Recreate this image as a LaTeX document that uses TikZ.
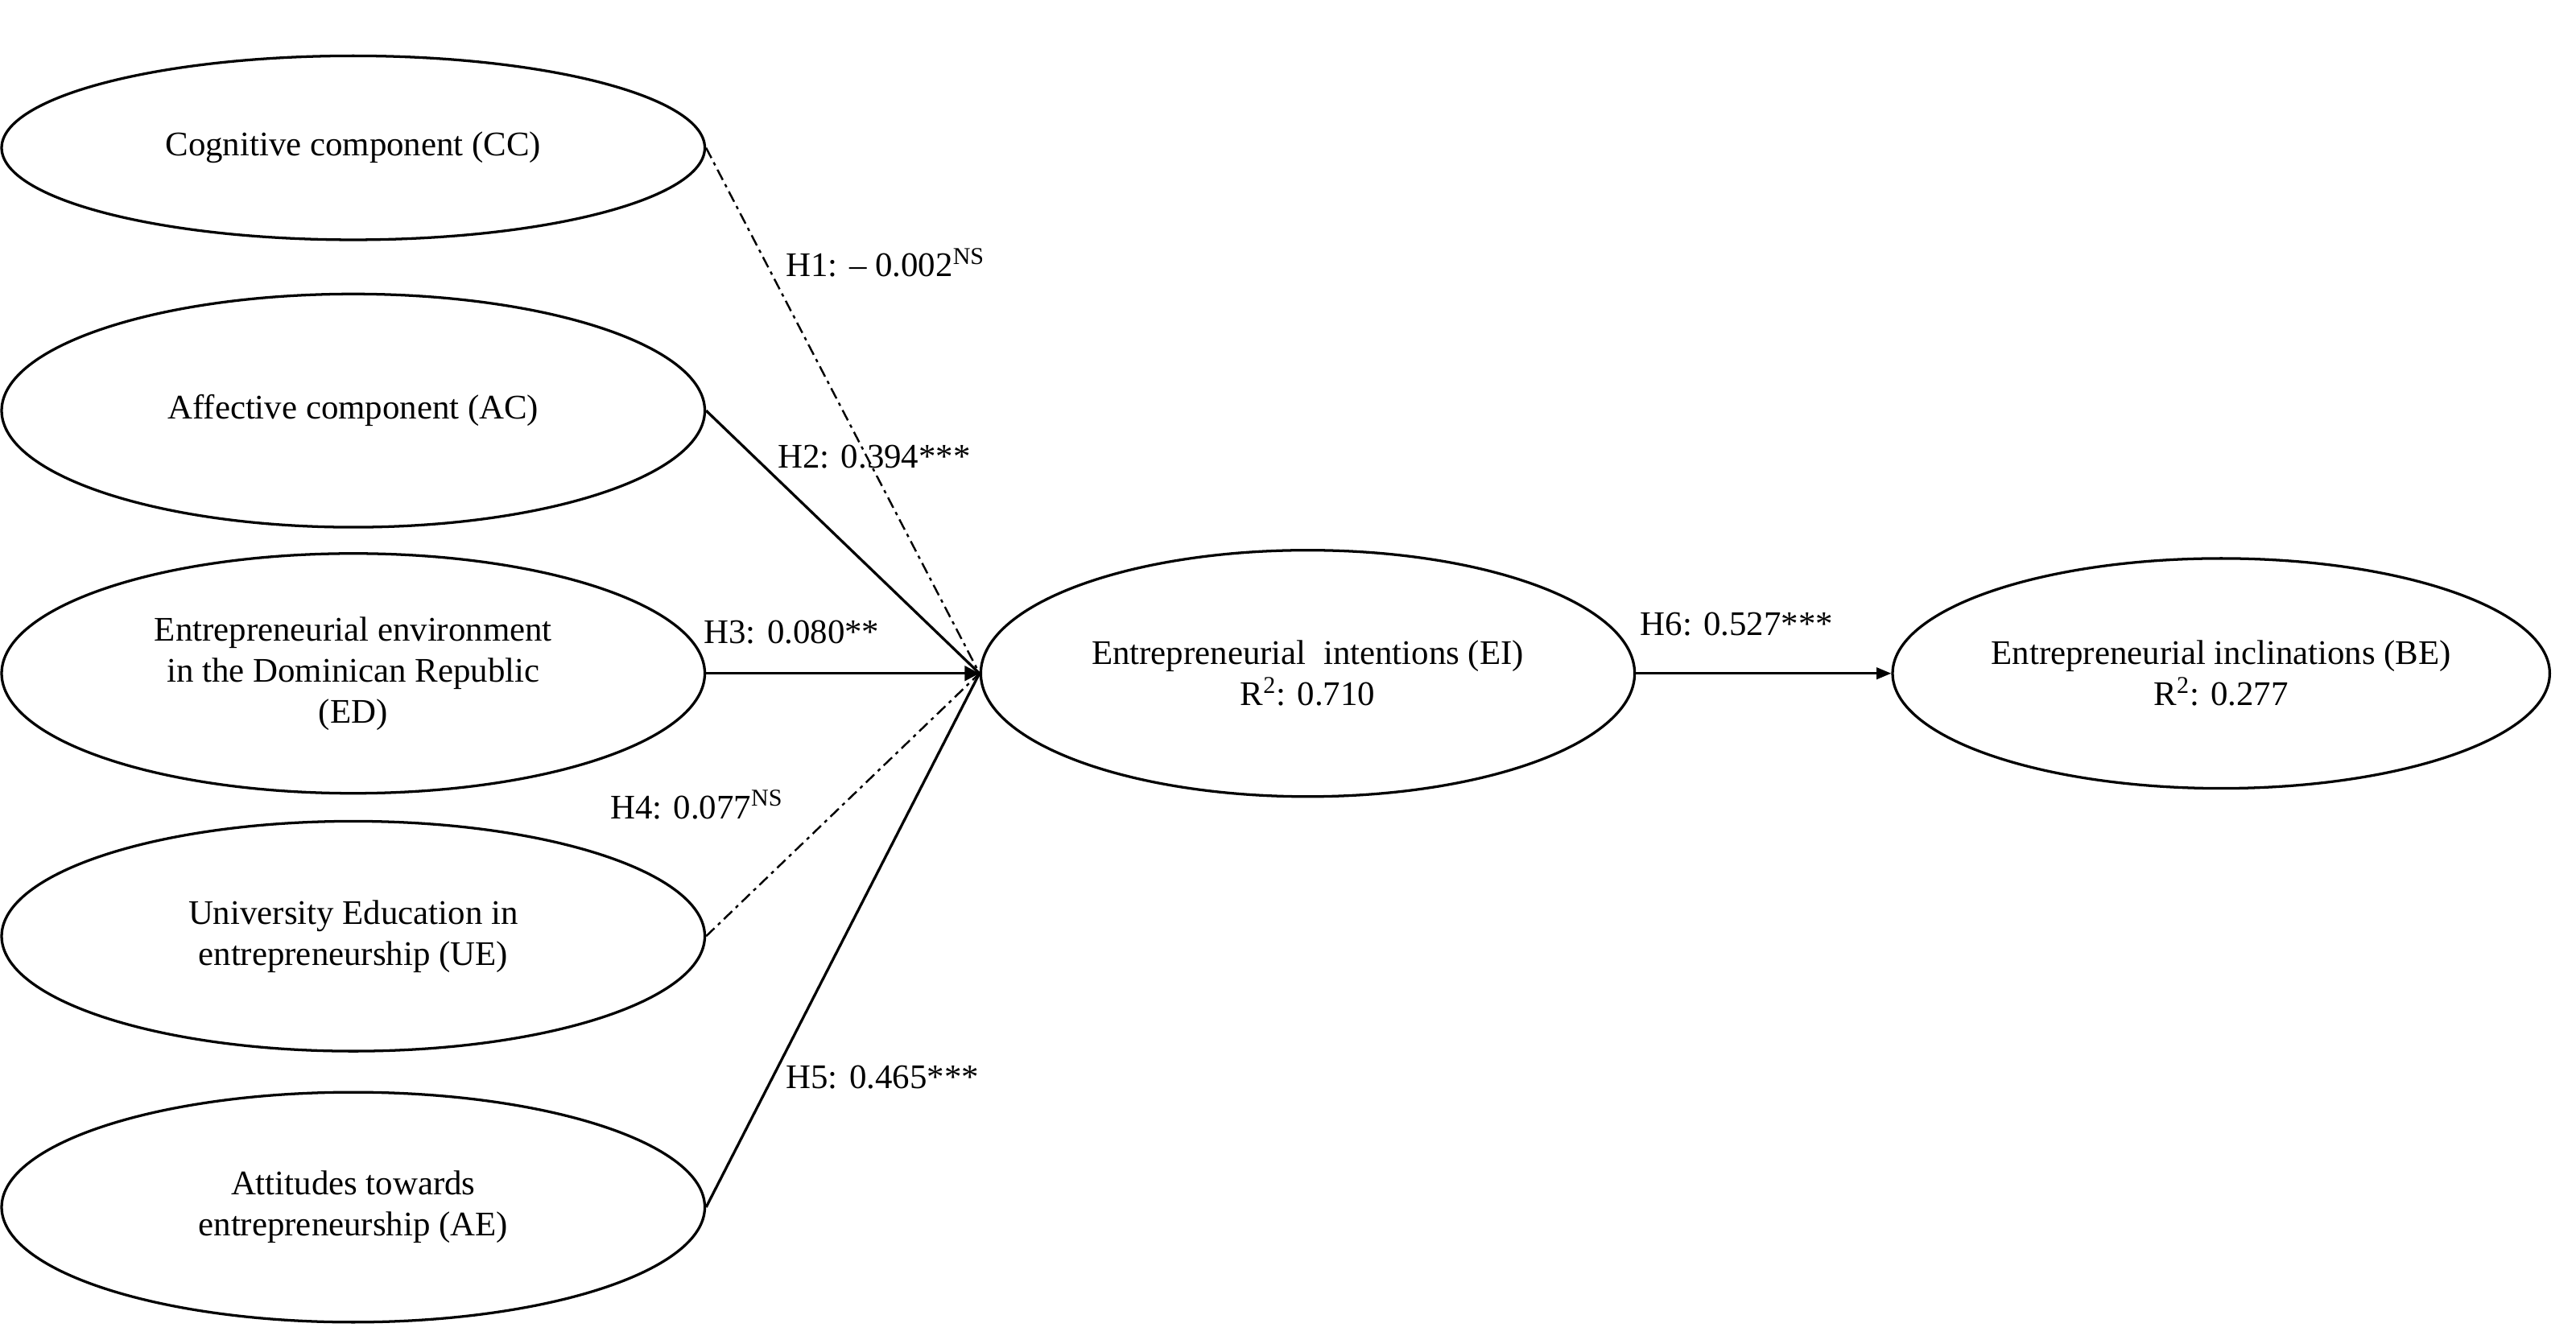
\documentclass[tikz,border=0pt]{standalone}
\usepackage{fontspec}
\setmainfont{Liberation Serif}
\usetikzlibrary{arrows.meta,shapes.geometric}
\begin{document}
\begin{tikzpicture}[x=1pt,y=-1pt,
 el/.style={draw,line width=1.6pt,ellipse,inner sep=0pt,minimum width=#1},
 lv/.style={el=428pt,minimum height=142pt,align=center,font=\fontsize{21}{25}\selectfont},
 lab/.style={font=\fontsize{21}{25}\selectfont,anchor=west},
 ln/.style={line width=1.6pt},
 dd/.style={line width=1.2pt,dash pattern=on 7pt off 3pt on 2pt off 3pt}]
\useasboundingbox (0,0) rectangle (1568,818);
\node[lv,minimum height=112pt] (cc) at (215,90) {Cognitive component (CC)};
\node[lv] (ac) at (215,250) {Affective component (AC)};
\node[lv,minimum height=146pt] (ed) at (215,410) {Entrepreneurial environment\\in the Dominican Republic\\(ED)};
\node[lv,minimum height=140pt] (ue) at (215,570) {University Education in\\entrepreneurship (UE)};
\node[lv,minimum height=140pt] (ae) at (215,735) {Attitudes towards\\entrepreneurship (AE)};
\node[lv,minimum width=398pt,minimum height=150pt] (ei) at (796,410) {Entrepreneurial\ \ intentions (EI)\\R\textsuperscript{2}: 0.710};
\node[lv,minimum width=400pt,minimum height=140pt] (be) at (1352,410) {Entrepreneurial inclinations (BE)\\R\textsuperscript{2}: 0.277};
\coordinate (m) at (ei.west);
\draw[dd] (cc.east) -- (m);
\draw[ln] (ac.east) -- (m);
\draw[ln,-{Triangle[length=9pt,width=9pt]}] (ed.east) -- (m);
\draw[dd] (ue.east) -- (m);
\draw[ln] (ae.east) -- (m);
\draw[ln,-{Triangle[length=9pt,width=7pt]}] (ei.east) -- (be.west);
\node[lab] (h1) at (475,160) {H1: -- 0.002\textsuperscript{NS}};
\node[lab] (h2) at (470,278) {H2: 0.394***};
\node[lab] (h3) at (425,385) {H3: 0.080**};
\node[lab] (h4) at (368,490) {H4: 0.077\textsuperscript{NS}};
\node[lab] (h5) at (475,656) {H5: 0.465***};
\node[lab] (h6) at (995,380) {H6: 0.527***};
\end{tikzpicture}
\end{document}
